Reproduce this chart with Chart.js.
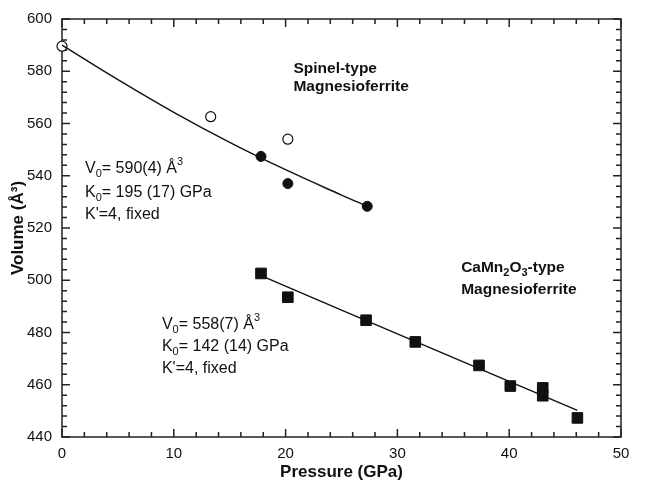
<!DOCTYPE html>
<html>
<head>
<meta charset="utf-8">
<script src="https://cdn.jsdelivr.net/npm/chart.js@4.4.1/dist/chart.umd.min.js"></script>
<style>
  html, body { margin: 0; padding: 0; background: #fff; }
  #wrap { width: 660px; height: 487px; }
</style>
</head>
<body>
<div id="wrap"><canvas id="eosChart" width="660" height="487"></canvas></div>
<script>
// spinel-type, open circles
const spinelOpenP = [0, 13.3, 20.2];
const spinelOpenV = [589.6, 562.6, 554.0];
// spinel-type, filled circles
const spinelFilledP = [17.8, 20.2, 27.3];
const spinelFilledV = [547.4, 537.0, 528.3];
// spinel fit curve
const spinelFitP = [0, 5, 10, 15, 20, 25, 27.3];
const spinelFitV = [590.0, 576.8, 564.3, 552.8, 542.3, 532.6, 528.3];
// CaMn2O4-type squares
const camnP = [17.8, 20.2, 27.2, 31.6, 37.3, 40.1, 43.0, 43.0, 46.1];
const camnV = [502.6, 493.5, 484.7, 476.4, 467.4, 459.5, 458.8, 455.8, 447.3];
// CaMn2O4-type fit line
const camnFitP = [17.8, 32.0, 46.1];
const camnFitV = [501.8, 475.8, 450.2];

const xTicks = [0, 10, 20, 30, 40, 50];
const xMinor = [2, 4, 6, 8, 12, 14, 16, 18, 22, 24, 26, 28, 32, 34, 36, 38, 42, 44, 46, 48];
const yTicks = [440, 460, 480, 500, 520, 540, 560, 580, 600];
const yMinor = [444, 448, 452, 456, 464, 468, 472, 476, 484, 488, 492, 496, 504, 508, 512, 516,
  524, 528, 532, 536, 544, 548, 552, 556, 564, 568, 572, 576, 584, 588, 592, 596];

function pts(xs, ys) {
  return xs.map((v, i) => ({ x: v, y: ys[i] }));
}

const FONT = '"Liberation Sans", Arial, sans-serif';

// rich text: [text, kind] where kind is 'n', 'sub' or 'sup'
function drawRich(ctx, x, y, parts, size, bold) {
  let cx = x;
  const w = bold ? 'bold ' : '';
  parts.forEach(([t, kind]) => {
    let fs = size, dy = 0;
    if (kind === 'sub') { fs = Math.round(size * 0.7); dy = size * 0.35; }
    if (kind === 'sup') { fs = Math.round(size * 0.7); dy = -size * 0.4; }
    ctx.font = w + fs + 'px ' + FONT;
    ctx.fillText(t, cx, y + dy);
    cx += ctx.measureText(t).width;
  });
}

const notes = [
  { p: 20.7, v: 581.0, bold: true, parts: [['Spinel-type', 'n']] },
  { p: 20.7, v: 574.1, bold: true, parts: [['Magnesioferrite', 'n']] },
  { p: 2.06, v: 542.9, parts: [['V', 'n'], ['0', 'sub'], ['= 590(4) Å', 'n'], ['3', 'sup']] },
  { p: 2.06, v: 533.7, parts: [['K', 'n'], ['0', 'sub'], ['= 195 (17) GPa', 'n']] },
  { p: 2.06, v: 525.3, parts: [["K'=4, fixed", 'n']] },
  { p: 35.7, v: 504.8, bold: true, parts: [['CaMn', 'n'], ['2', 'sub'], ['O', 'n'], ['3', 'sub'], ['-type', 'n']] },
  { p: 35.7, v: 496.4, bold: true, parts: [['Magnesioferrite', 'n']] },
  { p: 8.94, v: 483.0, parts: [['V', 'n'], ['0', 'sub'], ['= 558(7) Å', 'n'], ['3', 'sup']] },
  { p: 8.94, v: 474.7, parts: [['K', 'n'], ['0', 'sub'], ['= 142 (14) GPa', 'n']] },
  { p: 8.94, v: 466.3, parts: [["K'=4, fixed", 'n']] }
];

const framePlugin = {
  id: 'frame',
  beforeDatasetsDraw(chart) {
    const { ctx, chartArea: a, scales: { x, y } } = chart;
    ctx.save();
    ctx.strokeStyle = '#222';
    ctx.lineWidth = 1.5;
    ctx.strokeRect(a.left, a.top, a.right - a.left, a.bottom - a.top);
    ctx.beginPath();
    const tickX = (vals, len) => vals.forEach(v => {
      const px = x.getPixelForValue(v);
      ctx.moveTo(px, a.bottom); ctx.lineTo(px, a.bottom - len);
      ctx.moveTo(px, a.top); ctx.lineTo(px, a.top + len);
    });
    const tickY = (vals, len) => vals.forEach(v => {
      const py = y.getPixelForValue(v);
      ctx.moveTo(a.left, py); ctx.lineTo(a.left + len, py);
      ctx.moveTo(a.right, py); ctx.lineTo(a.right - len, py);
    });
    tickX(xTicks, 8); tickX(xMinor, 5);
    tickY(yTicks, 8); tickY(yMinor, 5);
    ctx.stroke();
    ctx.restore();
  },
  afterDraw(chart) {
    const { ctx, scales: { x, y } } = chart;
    ctx.save();
    ctx.fillStyle = '#111';
    ctx.textBaseline = 'middle';
    notes.forEach(n => {
      drawRich(ctx, x.getPixelForValue(n.p), y.getPixelForValue(n.v), n.parts, n.bold ? 15.5 : 16, n.bold);
    });
    ctx.restore();
  }
};

new Chart(document.getElementById('eosChart'), {
  type: 'scatter',
  data: {
    datasets: [
      {
        type: 'line', data: pts(spinelFitP, spinelFitV),
        borderColor: '#111', borderWidth: 1.4, pointRadius: 0, tension: 0.4, fill: false
      },
      {
        type: 'line', data: pts(camnFitP, camnFitV),
        borderColor: '#111', borderWidth: 1.4, pointRadius: 0, tension: 0.4, fill: false
      },
      {
        data: pts(spinelOpenP, spinelOpenV), clip: false,
        pointStyle: 'circle', pointRadius: 5, backgroundColor: '#fff', borderColor: '#111', borderWidth: 1.2
      },
      {
        data: pts(spinelFilledP, spinelFilledV), clip: false,
        pointStyle: 'circle', pointRadius: 5, backgroundColor: '#111', borderColor: '#111', borderWidth: 1
      },
      {
        data: pts(camnP, camnV), clip: false,
        pointStyle: 'rect', pointRadius: 7.5, backgroundColor: '#111', borderColor: '#111', borderWidth: 1
      }
    ]
  },
  options: {
    responsive: false,
    animation: false,
    events: [],
    layout: { padding: { top: 17, right: 39, left: 0, bottom: 0 } },
    plugins: { legend: { display: false }, tooltip: { enabled: false } },
    scales: {
      x: {
        type: 'linear', min: 0, max: 50,
        afterBuildTicks: s => { s.ticks = xTicks.map(v => ({ value: v })); },
        afterFit: s => { s.height = 50; },
        grid: { display: false, drawTicks: false },
        border: { display: false },
        ticks: { color: '#111', font: { family: FONT, size: 15 }, padding: 8 },
        title: { display: true, text: 'Pressure (GPa)', color: '#111', font: { family: FONT, size: 17, weight: 'bold' }, padding: { top: 2, bottom: 4 } }
      },
      y: {
        type: 'linear', min: 440, max: 600,
        afterBuildTicks: s => { s.ticks = yTicks.map(v => ({ value: v })); },
        afterFit: s => { s.width = 62; },
        grid: { display: false, drawTicks: false },
        border: { display: false },
        ticks: { color: '#111', font: { family: FONT, size: 15 }, padding: 10 },
        title: { display: true, text: 'Volume (Å³)', color: '#111', font: { family: FONT, size: 17, weight: 'bold' }, padding: { top: 8, bottom: 0 } }
      }
    }
  },
  plugins: [framePlugin]
});
</script>
</body>
</html>
